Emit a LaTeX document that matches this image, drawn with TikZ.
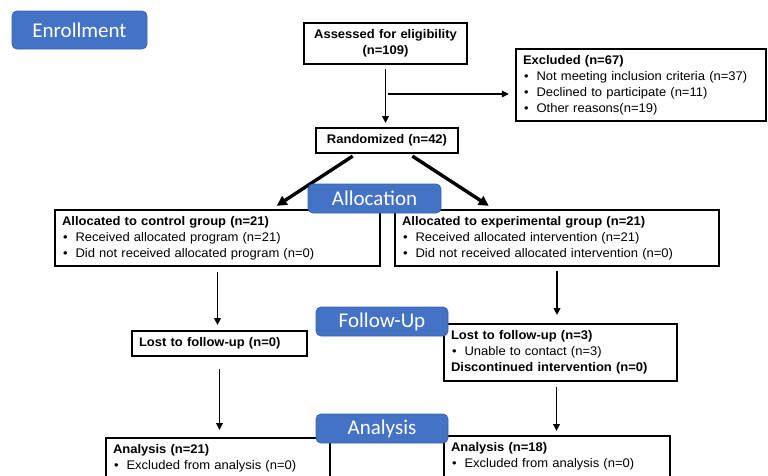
\documentclass[tikz,border=0pt]{standalone}
\usepackage{fontspec}
\setmainfont[FakeStretch=1.04]{Liberation Sans}
\newfontfamily\stagefont{Carlito}
\usetikzlibrary{arrows.meta}
\definecolor{stageblue}{HTML}{4472C4}
\definecolor{stageline}{HTML}{3A64AE}
\newcommand{\itm}[1]{\hspace*{1pt}\textbullet\hspace{8pt}#1}
\begin{document}
\begin{tikzpicture}[x=1pt,y=-1pt,
  box/.style={draw, line width=2.2pt, inner xsep=7pt, inner ysep=6.5pt, align=left,
    font=\fontsize{12.5}{16}\selectfont},
  stage/.style={draw=stageline, line width=0.8pt, fill=stageblue, rounded corners=5pt,
    text=white, font=\stagefont\fontsize{21}{24}\selectfont, minimum width=132pt, minimum height=29pt},
  arr/.style={draw, line width=1.8pt, -{Triangle[length=7pt,width=6.5pt]}},
  bigarr/.style={draw, line width=3.4pt, -{Triangle[length=10pt,width=10pt]}}]
\clip (0,0) rectangle (768,475);
\fill[white] (0,0) rectangle (768,475);
% flow boxes
\node[box, align=center, text width=149pt] (assess) at (385.5,43.5) {\textbf{Assessed for eligibility}\\\textbf{(n=109)}};
\node[box, text width=236pt] (excl) at (641,85) {\textbf{Excluded (n=67)}\\\itm{Not meeting inclusion criteria (n=37)}\\\itm{Declined to participate (n=11)}\\\itm{Other reasons(n=19)}};
\node[box, align=center, text width=128pt] (rand) at (387,140.5) {\textbf{Randomized (n=42)}};
\node[box, text width=311pt] (ctrl) at (217.5,238) {\textbf{Allocated to control group (n=21)}\\\itm{Received allocated program (n=21)}\\\itm{Did not received allocated program (n=0)}};
\node[box, text width=310pt] (exp) at (557,238) {\textbf{Allocated to experimental group (n=21)}\\\itm{Received allocated intervention (n=21)}\\\itm{Did not received allocated intervention (n=0)}};
\node[box, text width=161pt] (lost0) at (219.5,343.5) {\textbf{Lost to follow-up (n=0)}};
\node[box, text width=219pt] (lost3) at (560.5,352.5) {\textbf{Lost to follow-up (n=3)}\\\itm{Unable to contact (n=3)}\\\textbf{Discontinued intervention (n=0)}};
\node[box, anchor=north, text width=210pt] (ana21) at (218,437) {\textbf{Analysis (n=21)}\\\itm{Excluded from analysis (n=0)}};
\node[box, anchor=north, text width=212pt] (ana18) at (557,435) {\textbf{Analysis (n=18)}\\\itm{Excluded from analysis (n=0)}};
% connectors
\coordinate (branch) at (386,94);
\path[arr, shorten <=4pt, shorten >=4pt] (assess.south) -- (assess.south |- rand.north);
\path[arr, shorten <=2pt, shorten >=6pt] (branch) -- (branch -| excl.west);
\path[bigarr, shorten <=4pt, shorten >=5pt] ([xshift=-31]rand.south) -- ([xshift=55]ctrl.north);
\path[bigarr, shorten <=4pt, shorten >=5pt] ([xshift=22]rand.south) -- ([xshift=-64]exp.north);
\path[arr, shorten <=5pt, shorten >=5pt] (ctrl.south) -- (ctrl.south |- lost0.north);
\path[arr, shorten <=4pt, shorten >=8pt] (exp.south) -- (exp.south |- lost3.north);
\path[arr, shorten <=12pt, shorten >=7pt] (lost0.south) -- (lost0.south |- ana21.north);
\path[arr, shorten <=5pt, shorten >=4pt] ([xshift=-4]lost3.south) -- ([xshift=-4]lost3.south |- ana18.north);
% stage labels
\node[stage, minimum width=135pt, minimum height=38pt] (enrol) at (79.5,30) {Enrollment};
\node[stage, minimum width=133pt] (alloc) at (374.5,198.5) {Allocation};
\node[stage] (follow) at (382,321.5) {Follow-Up};
\node[stage] (analysis) at (382,428.5) {Analysis};
\end{tikzpicture}
\end{document}
